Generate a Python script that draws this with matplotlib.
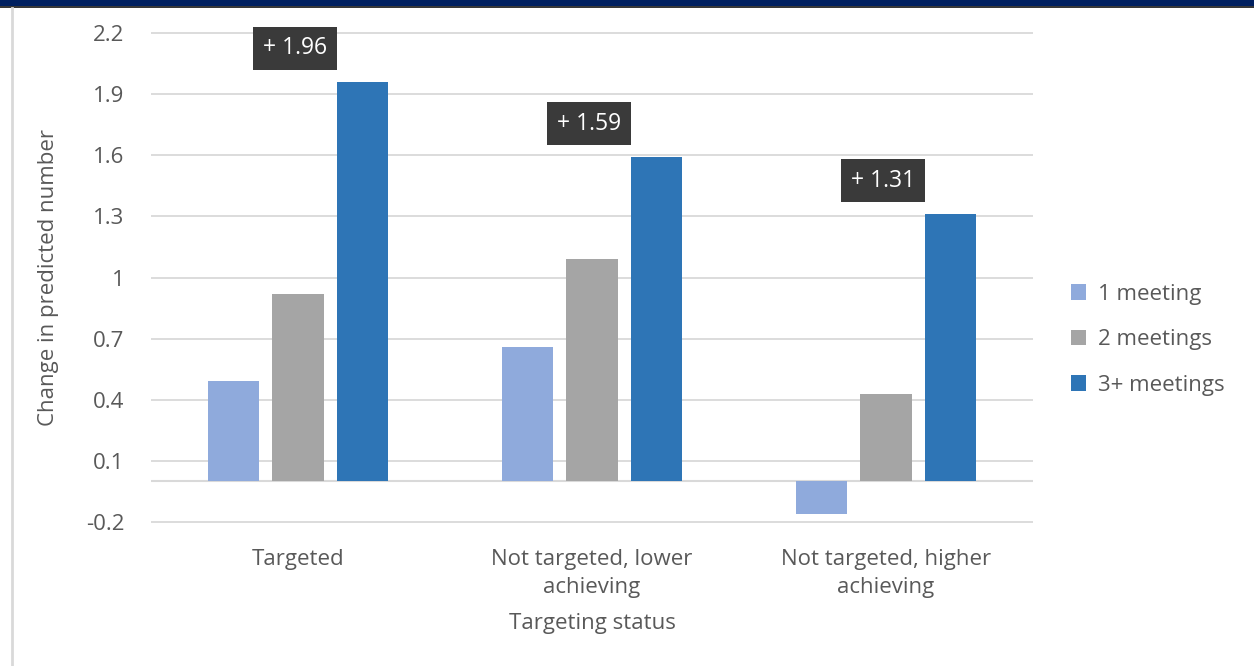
import numpy as np
import matplotlib.pyplot as plt
from matplotlib.patches import Rectangle
from matplotlib.lines import Line2D

# data
categories = ["Targeted", "Not targeted, lower\nachieving", "Not targeted, higher\nachieving"]
series_names = ["1 meeting", "2 meetings", "3+ meetings"]
one_meeting = [0.49, 0.66, -0.16]
two_meetings = [0.92, 1.09, 0.43]
three_plus = [1.96, 1.59, 1.31]
yticks = [-0.2, 0.1, 0.4, 0.7, 1, 1.3, 1.6, 1.9, 2.2]

colors = ["#8faadc", "#a5a5a5", "#2e75b6"]
text_grey = "#595959"
plt.rcParams['font.family'] = ['Open Sans', 'DejaVu Sans']
fs = 16

fig = plt.figure(figsize=(12.54, 6.66), dpi=100)

# frame decoration: navy band on top, thin grey rule on the left
fig.add_artist(Rectangle((0, 1 - 6 / 666), 1, 6 / 666, transform=fig.transFigure,
                         facecolor="#002060", edgecolor="none"))
fig.add_artist(Line2D([0, 1], [1 - 7 / 666] * 2, transform=fig.transFigure,
                      color="#111111", lw=1.2))
fig.add_artist(Line2D([12 / 1254] * 2, [0, 1 - 8 / 666], transform=fig.transFigure,
                      color="#d9d9d9", lw=2))

ax = fig.add_axes([151 / 1254, 1 - 528 / 666, 882 / 1254, (528 - 27) / 666])

x = np.arange(len(categories))
width = 0.175
step = 0.22
all_series = [one_meeting, two_meetings, three_plus]
for i, (vals, name, c) in enumerate(zip(all_series, series_names, colors)):
    ax.bar(x + (i - 1) * step, vals, width, color=c, label=name, zorder=3)

# value boxes over the 3+ bars
for xi, v in zip(x, three_plus):
    ax.text(xi - 0.01, v + 0.165, "+ %.2f" % v, ha="center", va="center",
            color="white", fontsize=16.5,
            bbox=dict(boxstyle="square,pad=0.42", facecolor="#3a3a3a", edgecolor="none"),
            zorder=5)

ax.set_xlim(-0.5, 2.5)
ax.set_ylim(-0.23, 2.23)
ax.set_yticks(yticks)
ax.set_yticklabels(["%g" % t for t in yticks])
ax.grid(axis="y", color="#d9d9d9", lw=1.3, zorder=0)
ax.axhline(0, color="#d9d9d9", lw=1.5, zorder=2)
for s in ax.spines.values():
    s.set_visible(False)
ax.tick_params(length=0, labelsize=fs, colors=text_grey)
ax.tick_params(axis="y", pad=19)
ax.tick_params(axis="x", pad=15)
ax.set_xticks(x)
ax.set_xticklabels(categories, linespacing=1.45)

ax.set_ylabel("Change in predicted number", fontsize=fs, color=text_grey)
ax.yaxis.set_label_coords(-0.104, 0.5)
ax.set_xlabel("Targeting status", fontsize=fs, color=text_grey, labelpad=11)

leg = ax.legend(loc="center left", bbox_to_anchor=(1.02, 0.376), frameon=False,
                fontsize=fs, labelcolor=text_grey, handlelength=0.7, handleheight=0.7,
                handletextpad=0.55, labelspacing=1.1)

fig.savefig("out.png", dpi=100, facecolor="white")
